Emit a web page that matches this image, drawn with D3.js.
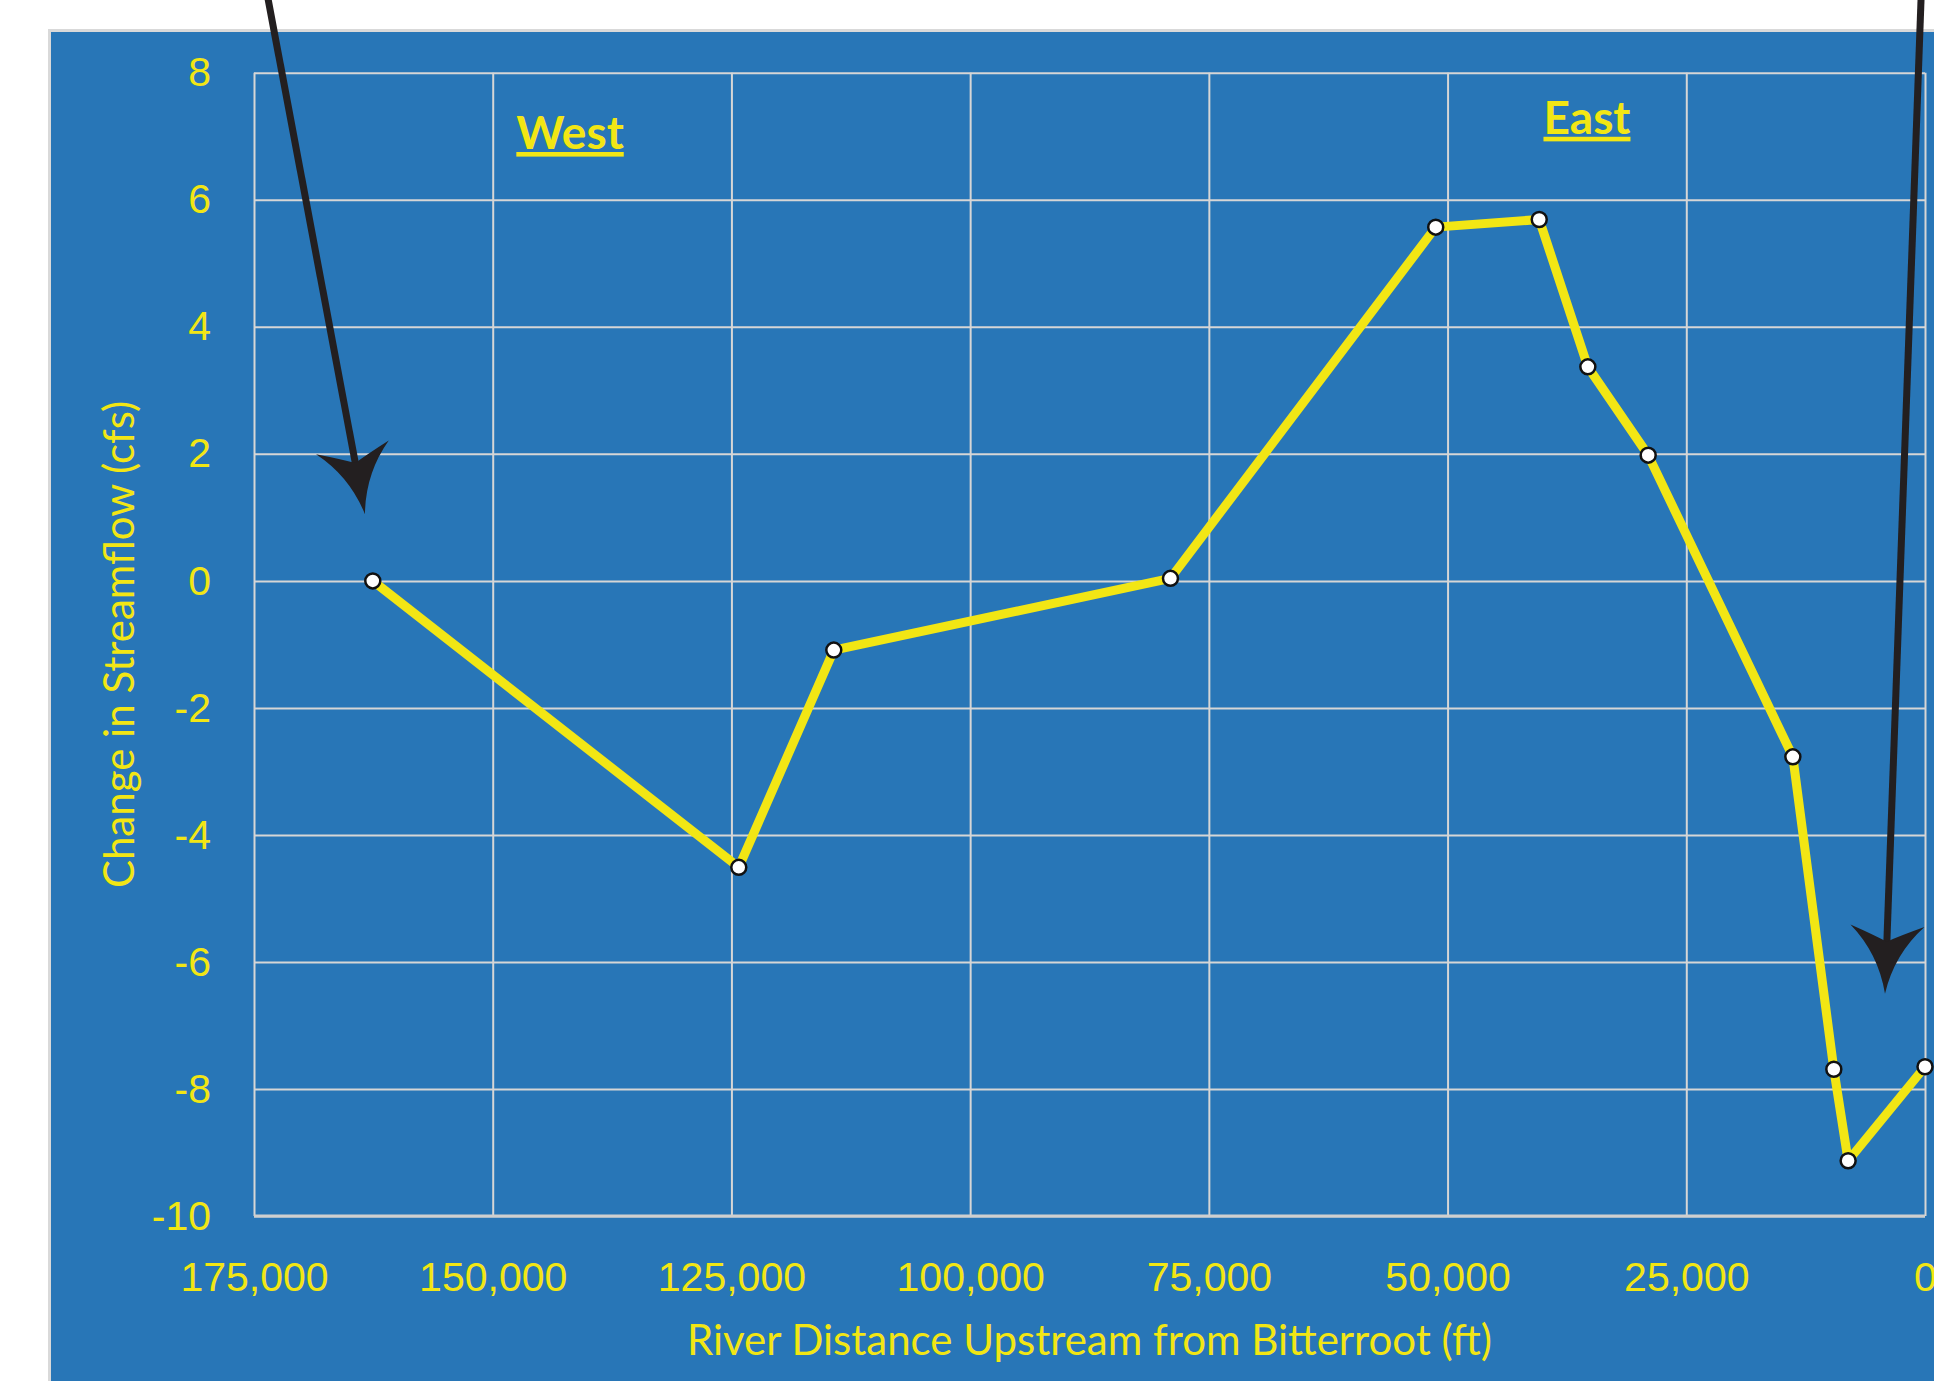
<!DOCTYPE html>
<meta charset="utf-8">
<style>
body {
	margin: 0;
	background: #fff;
}
svg {
	display: block;
	font-family: Lato, sans-serif;
}
.grid line {
	stroke: #d6d6d6;
	stroke-width: 2;
}
.grid path {
	display: none;
}
.axis text {
	fill: #f2e614;
	font-size: 41px;
}
.label {
	fill: #f2e614;
	font-size: 42px;
}
.region {
	fill: #f2e614;
	font-size: 46px;
	font-weight: bold;
	text-decoration: underline;
}
</style>
<body>
<svg></svg>

<script src="https://d3js.org/d3.v7.min.js"></script>
<script>

// river distance upstream from the Bitterroot (ft)
var distance = [162560, 124230, 114280, 79020, 51240, 40400, 35310, 28990, 13840, 9550, 8050, 0];
// change in streamflow (cfs)
var change = [0.0, -4.51, -1.09, 0.04, 5.57, 5.69, 3.37, 1.98, -2.77, -7.69, -9.13, -7.65];

var xTicks = [175000, 150000, 125000, 100000, 75000, 50000, 25000, 0];
var yTicks = [-10, -8, -6, -4, -2, 0, 2, 4, 6, 8];

var regionNames = ["West", "East"];
var regionX = [141900, 35400];
var regionY = [6.8, 7.04];

// annotation arrows: start (off the top of the figure) and tip, in data units
var arrowStartX = [173700, 380];
var arrowStartY = [9.3, 9.3];
var arrowTipX = [163380, 4190];
var arrowTipY = [1.05, -6.5];

var width = 1934, height = 1381;
var margin = {top: 72.8, right: 9, bottom: 165, left: 254};

var svg = d3.select("svg")
	.attr("width", width)
	.attr("height", height);

svg.append("rect")
	.attr("x", 49.5)
	.attr("y", 30.5)
	.attr("width", width)
	.attr("height", height)
	.attr("fill", "#2876b7")
	.attr("stroke", "#d9d9d9")
	.attr("stroke-width", 3);

var x = d3.scaleLinear()
	.domain([175000, 0])
	.range([margin.left, width - margin.right]);

var y = d3.scaleLinear()
	.domain([-10, 8])
	.range([height - margin.bottom, margin.top]);

var plotH = y(-10) - y(8);
var plotW = x(0) - x(175000);

// vertical grid + x labels
var xaxis = svg.append("g")
	.attr("class", "grid axis")
	.attr("transform", "translate(0," + y(-10) + ")")
	.call(d3.axisBottom(x)
		.tickValues(xTicks)
		.tickSize(-plotH)
		.tickPadding(0)
		.tickFormat(d3.format(",")));
xaxis.selectAll("text").attr("y", 75).attr("dy", 0);

// horizontal grid + y labels
svg.append("g")
	.attr("class", "grid axis")
	.attr("transform", "translate(" + x(175000) + ",0)")
	.call(d3.axisLeft(y)
		.tickValues(yTicks)
		.tickSize(-plotW)
		.tickPadding(43)
		.tickFormat(function(d) { return String(d); }));

// heavier bottom axis line
svg.append("line")
	.attr("x1", x(175000)).attr("x2", x(0))
	.attr("y1", y(-10)).attr("y2", y(-10))
	.attr("stroke", "#cfcfcf")
	.attr("stroke-width", 3);

svg.append("text")
	.attr("class", "label")
	.attr("x", (x(175000) + x(0)) / 2)
	.attr("y", 1355)
	.attr("text-anchor", "middle")
	.text("River Distance Upstream from Bitterroot (ft)");

svg.append("text")
	.attr("class", "label")
	.attr("transform", "translate(134," + (y(-10) + y(8)) / 2 + ") rotate(-90)")
	.attr("text-anchor", "middle")
	.text("Change in Streamflow (cfs)");

regionNames.forEach(function(name, i) {
	svg.append("text")
		.attr("class", "region")
		.attr("x", x(regionX[i]))
		.attr("y", y(regionY[i]))
		.attr("text-anchor", "middle")
		.text(name);
});

var points = distance.map(function(d, i) { return {d: d, c: change[i]}; });

var line = d3.line()
	.x(function(p) { return x(p.d); })
	.y(function(p) { return y(p.c); });

svg.append("path")
	.attr("d", line(points))
	.attr("fill", "none")
	.attr("stroke", "#f2e614")
	.attr("stroke-width", 9)
	.attr("stroke-linejoin", "round");

svg.selectAll("circle.pt")
	.data(points)
	.enter().append("circle")
	.attr("class", "pt")
	.attr("cx", function(p) { return x(p.d); })
	.attr("cy", function(p) { return y(p.c); })
	.attr("r", 7.5)
	.attr("fill", "#fff")
	.attr("stroke", "#111")
	.attr("stroke-width", 2.5);

// black annotation arrows with a concave head
arrowTipX.forEach(function(t, i) {
	var x0 = x(arrowStartX[i]), y0 = y(arrowStartY[i]);
	var x1 = x(t), y1 = y(arrowTipY[i]);
	var ang = Math.atan2(y1 - y0, x1 - x0) * 180 / Math.PI;
	var len = Math.hypot(x1 - x0, y1 - y0);
	var g = svg.append("g")
		.attr("transform", "translate(" + x0 + "," + y0 + ") rotate(" + ang + ")");
	g.append("line")
		.attr("x1", 0).attr("y1", 0)
		.attr("x2", len - 50).attr("y2", 0)
		.attr("stroke", "#231f20")
		.attr("stroke-width", 7);
	g.append("path")
		.attr("transform", "translate(" + len + ",0)")
		.attr("d", "M0,0 Q-40,-8 -68,-37 Q-58,-12 -52,0 Q-58,12 -68,37 Q-40,8 0,0 Z")
		.attr("fill", "#231f20");
});

</script>
</body>
